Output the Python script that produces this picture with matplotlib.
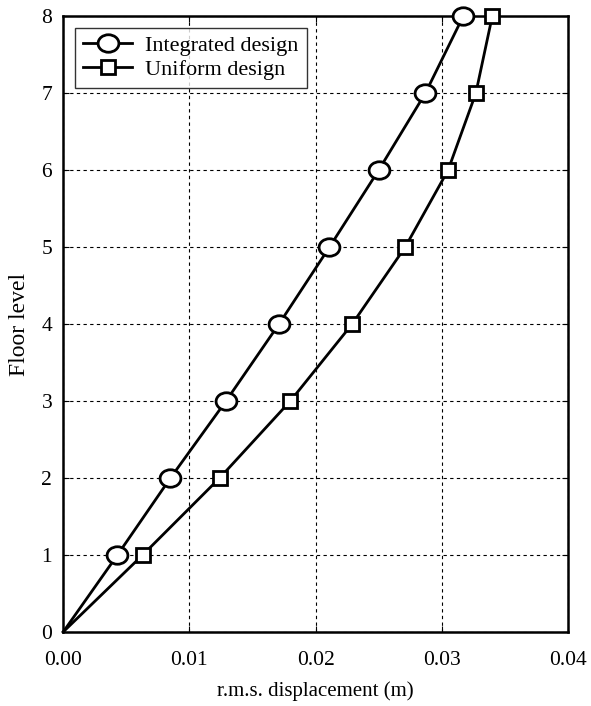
import matplotlib
matplotlib.use("Agg")
import matplotlib.pyplot as plt
from matplotlib.path import Path
from matplotlib.transforms import Affine2D

floors = [0, 1, 2, 3, 4, 5, 6, 7, 8]
integrated = [0.0, 0.0043, 0.0085, 0.0129, 0.0171, 0.0211, 0.0250, 0.0287, 0.0317]
uniform = [0.0, 0.0063, 0.0124, 0.0180, 0.0229, 0.0271, 0.0305, 0.0327, 0.0340]
xticks = [0.00, 0.01, 0.02, 0.03, 0.04]
xticklabels = ["0.00", "0.01", "0.02", "0.03", "0.04"]

plt.rcParams['font.family'] = ['Liberation Serif', 'DejaVu Serif']

# slightly flattened circle, like the scanned original
ellipse = Path.unit_circle().transformed(Affine2D().scale(1.0, 0.84))

fig = plt.figure(figsize=(5.91, 7.06), dpi=100)
ax = fig.add_axes([0.107, 0.105, 0.854, 0.872])

ax.plot(integrated, floors, color='black', lw=2, marker=ellipse, markersize=15,
        markerfacecolor='white', markeredgewidth=2, markevery=list(range(1, 9)),
        clip_on=False, zorder=3, label='Integrated design')
ax.plot(uniform, floors, color='black', lw=2, marker='s', markersize=10,
        markerfacecolor='white', markeredgewidth=2, markevery=list(range(1, 9)),
        clip_on=False, zorder=3, label='Uniform design')

ax.set_xlim(0, 0.04)
ax.set_ylim(0, 8)
ax.set_xticks(xticks)
ax.set_xticklabels(xticklabels)
ax.set_yticks(floors)
ax.tick_params(direction='in', top=True, right=True, labelsize=15.5, length=4)
ax.tick_params(axis='x', pad=14)
ax.tick_params(axis='y', pad=8)
ax.grid(True, color='black', linestyle=(0, (3, 3)), linewidth=0.8)
for s in ax.spines.values():
    s.set_linewidth(1.8)

ax.set_xlabel('r.m.s. displacement (m)', fontsize=15, labelpad=8)
ax.set_ylabel('Floor level', fontsize=17, labelpad=8)

leg = ax.legend(loc='upper left', fontsize=16, frameon=True, fancybox=False,
                edgecolor='black', handlelength=2.2, handletextpad=0.6,
                borderpad=0.35, labelspacing=0.15, borderaxespad=0,
                bbox_to_anchor=(0.024, 0.981))
leg.get_frame().set_linewidth(1.0)

fig.savefig('out.png', dpi=100)
